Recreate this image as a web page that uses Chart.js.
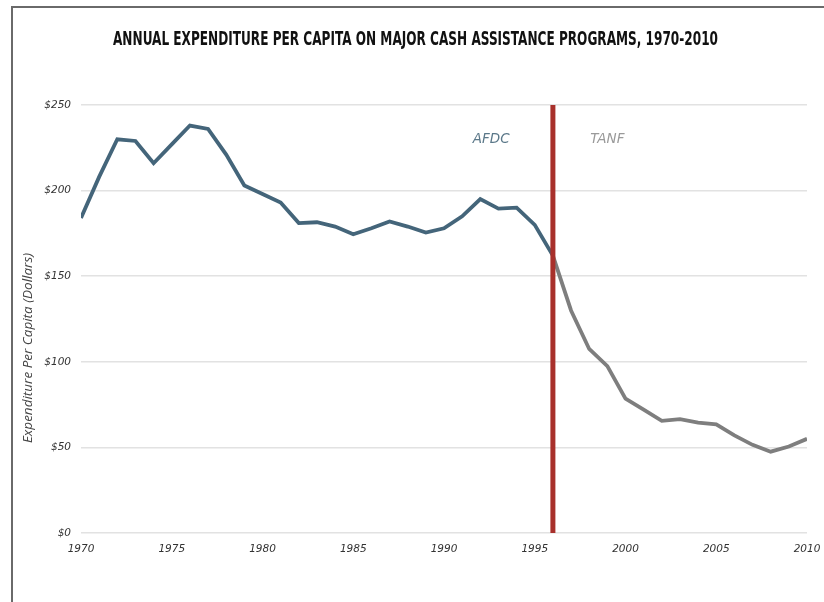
<!DOCTYPE html>
<html>
<head>
<meta charset="utf-8">
<script src="https://cdn.jsdelivr.net/npm/chart.js@4"></script>
<style>
  html, body { margin: 0; padding: 0; background: #fff; }
  #wrap { position: relative; width: 824px; height: 602px; }
  #frame { position: absolute; left: 11px; top: 6px; right: 0; bottom: 0; border-left: 2px solid #6a6a6a; border-top: 2px solid #6a6a6a; }
  canvas { position: absolute; left: 0; top: 0; }
</style>
</head>
<body>
<div id="wrap">
  <div id="frame"></div>
  <canvas id="chart" width="824" height="602"></canvas>
</div>
<script>
const afdcYears = [1970, 1971, 1972, 1973, 1974, 1975, 1976, 1977, 1978, 1979, 1980, 1981, 1982, 1983, 1984,
  1985, 1986, 1987, 1988, 1989, 1990, 1991, 1992, 1993, 1994, 1995, 1996];
const afdcValues = [184, 208, 230, 229, 216, 227, 238, 236, 221, 203, 198, 193, 181, 181.5, 179,
  174.5, 178, 182, 179, 175.5, 178, 185, 195, 189.5, 190, 180, 162];
const tanfYears = [1996, 1997, 1998, 1999, 2000, 2001, 2002, 2003, 2004, 2005, 2006, 2007, 2008, 2009, 2010];
const tanfValues = [162, 130, 107.5, 97.5, 78.5, 72, 65.5, 66.5, 64.5, 63.5, 57, 51.5, 47.5, 50.5, 55];
const reformYear = 1996;
const yTicks = [0, 50, 100, 150, 200, 250];
const chartTitle = "ANNUAL EXPENDITURE PER CAPITA ON MAJOR CASH ASSISTANCE PROGRAMS, 1970-2010";
const yTitle = "Expenditure Per Capita (Dollars)";
const labels = [
  { text: "AFDC", x: 1992.6, y: 230, color: "#5b7889" },
  { text: "TANF", x: 1999, y: 230, color: "#9a9a9a" }
];

const toPoints = (xs, ys) => xs.map((x, i) => ({ x, y: ys[i] }));

// title, y axis title and program names, drawn on the canvas
const extras = {
  id: "extras",
  afterDraw(chart) {
    const ctx = chart.ctx;
    const { x, y } = chart.scales;
    ctx.save();
    ctx.fillStyle = "#111";
    ctx.font = "bold 19px 'Liberation Sans Narrow', 'DejaVu Sans Condensed', sans-serif";
    ctx.textBaseline = "alphabetic";
    const w = ctx.measureText(chartTitle).width;
    ctx.translate(113, 45);
    ctx.scale(605 / w, 1);
    ctx.fillText(chartTitle, 0, 0);
    ctx.restore();

    ctx.save();
    ctx.translate(28, 348);
    ctx.rotate(-Math.PI / 2);
    ctx.font = "italic 13.5px 'Open Sans', sans-serif";
    ctx.fillStyle = "#444";
    ctx.textAlign = "center";
    ctx.textBaseline = "middle";
    ctx.fillText(yTitle, 0, 0);
    ctx.restore();

    ctx.save();
    ctx.font = "italic 13.5px 'DejaVu Sans', sans-serif";
    ctx.textAlign = "center";
    ctx.textBaseline = "middle";
    labels.forEach(l => {
      ctx.fillStyle = l.color;
      ctx.fillText(l.text, x.getPixelForValue(l.x), y.getPixelForValue(l.y));
    });
    ctx.restore();
  }
};

new Chart(document.getElementById("chart"), {
  type: "line",
  data: {
    datasets: [
      {
        label: "AFDC",
        data: toPoints(afdcYears, afdcValues),
        borderColor: "#44657a",
        borderWidth: 3.8,
        pointRadius: 0,
        tension: 0,
        order: 3
      },
      {
        label: "TANF",
        data: toPoints(tanfYears, tanfValues),
        borderColor: "#7e7e7e",
        borderWidth: 3.8,
        pointRadius: 0,
        tension: 0,
        order: 2
      },
      {
        label: "Reform",
        data: [{ x: reformYear, y: 0 }, { x: reformYear, y: 250 }],
        borderColor: "#a8302b",
        borderWidth: 5,
        pointRadius: 0,
        borderCapStyle: "butt",
        order: 1
      }
    ]
  },
  options: {
    responsive: false,
    animation: false,
    events: [],
    layout: { padding: { left: 20, right: 17, top: 105, bottom: 41 } },
    plugins: { legend: { display: false }, tooltip: { enabled: false }, title: { display: false } },
    scales: {
      x: {
        type: "linear",
        min: 1970,
        max: 2010,
        grid: { display: false, drawTicks: false },
        border: { display: false },
        ticks: {
          stepSize: 5,
          padding: 10,
          maxRotation: 0,
          color: "#333",
          font: { family: "'DejaVu Sans', sans-serif", style: "italic", size: 10.5 },
          callback: v => String(v)
        },
        afterFit: s => { s.height = 28; s.paddingLeft = 0; s.paddingRight = 0; }
      },
      y: {
        min: 0,
        max: 250,
        afterBuildTicks: s => { s.ticks = yTicks.map(v => ({ value: v })); },
        grid: { color: "#e2e2e2", lineWidth: 1.5, drawTicks: false },
        border: { display: false },
        ticks: {
          padding: 10,
          color: "#333",
          font: { family: "'DejaVu Sans', sans-serif", style: "italic", size: 10.5 },
          callback: v => "$" + v
        },
        afterFit: s => { s.width = 61; }
      }
    }
  },
  plugins: [extras]
});
</script>
</body>
</html>
